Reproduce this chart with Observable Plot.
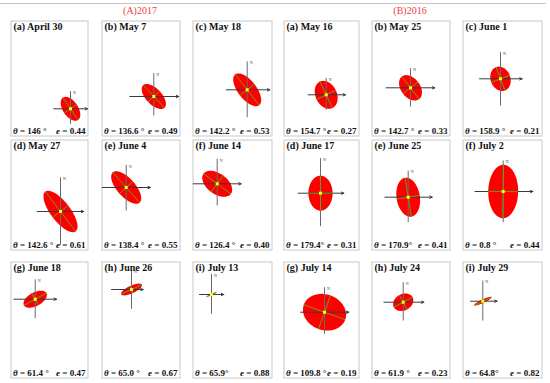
<!DOCTYPE html>
<html><head><meta charset="utf-8">
<script src="https://cdn.jsdelivr.net/npm/d3@7"></script>
<script src="https://cdn.jsdelivr.net/npm/@observablehq/plot@0.6"></script>
<style>
body{margin:0;background:#fff;}
#chart{position:relative;width:550px;height:383px;overflow:hidden;font-family:"Liberation Serif","DejaVu Serif",serif;background:#fff;}
.group{position:absolute;top:6px;font-size:10px;line-height:10px;color:#e8413c;transform:translateX(-50%);white-space:nowrap;}
.rule{position:absolute;left:0;top:3px;width:546px;height:1px;background:#c4c4c4;}
.panel{position:absolute;}
.panel svg{display:block;}
</style></head><body>
<div id="chart"><div class="rule"></div></div>
<script>
// ---- data ----
const groupLabels = ["(A)2017", "(B)2016"];
const panelTitles = [
  "(a) April 30", "(b) May 7", "(c) May 18", "(a) May 16", "(b) May 25", "(c) June 1",
  "(d) May 27", "(e) June 4", "(f) June 14", "(d) June 17", "(e) June 25", "(f) July 2",
  "(g) June 18", "(h) June 26", "(i) July 13", "(g) July 14", "(h) July 24", "(i) July 29"
];
const thetaLabels = [
  "146 °", "136.6 °", "142.2 °", "154.7 °", "142.7 °", "158.9 °",
  "142.6 °", "138.4 °", "126.4 °", "179.4°", "170.9°", "0.8 °",
  "61.4 °", "65.0 °", "65.9°", "109.8 °", "61.9 °", "64.8°"
];
const eLabels = [
  "0.44", "0.49", "0.53", "0.27", "0.33", "0.21",
  "0.61", "0.55", "0.40", "0.31", "0.41", "0.44",
  "0.47", "0.67", "0.88", "0.19", "0.23", "0.82"
];
// ellipse centre (position inside its panel), cross arm lengths, semi-major axis
const centerX = [60, 52.3, 54.7, 42.7, 39, 38,   50, 24.7, 24.7, 37, 36.7, 40.7,   24.7, 30, 19, 41, 31.7, 20.3];
const centerY = [88.3, 76, 69.3, 74.3, 67.3, 58.3,   72, 48, 44.3, 53.7, 57.7, 52,   37.7, 28, 33, 50.7, 40.7, 39.7];
const armLeft  = [16.7, 24, 21, 18, 24.3, 21,   23.3, 24, 24, 22.3, 23.3, 28.3,   21.3, 20, 12, 24, 19.3, 12.3];
const armRight = [17, 25, 22.6, 19.3, 24.3, 21.7,   23.3, 24.3, 24, 23.3, 24, 29.7,   21.3, 11.7, 12.3, 24.3, 20.7, 14.3];
const armUp    = [17.6, 23.3, 28.3, 17, 19.6, 26.7,   34.3, 22.7, 25, 35, 26.7, 31,   19.7, 19, 20.7, 25, 20, 20.7];
const armDown  = [15, 19, 27.4, 15, 18.7, 26.7,   33.3, 23, 21.7, 33, 25, 30.7,   19, 19.3, 19.3, 21.7, 18.3, 19.3];
const semiMajor = [13.5, 15.5, 19.5, 14.6, 14.2, 12.5,   25, 20.2, 17, 17.5, 19.7, 26.7,   12.8, 11.4, 5.5, 22, 10.6, 9.6];

// ---- layout ----
const colLeft = [10, 101, 192, 283, 371, 462];
const colWidth = [78, 79, 80, 76, 79, 80];
const rowTop = [20, 139, 261];
const rowHeight = [116, 111, 117];
const groupCenter = [140, 410];

const chart = document.getElementById("chart");
groupLabels.forEach((g, i) => {
  const d = document.createElement("div");
  d.className = "group"; d.textContent = g; d.style.left = groupCenter[i] + "px";
  chart.appendChild(d);
});

const serif = "'Liberation Serif','DejaVu Serif',serif";

function panel(i) {
  const r = Math.floor(i / 6), c = i % 6;
  const w = colWidth[c], h = rowHeight[r];
  const th = parseFloat(thetaLabels[i]) * Math.PI / 180;
  const e = parseFloat(eLabels[i]);
  const a = semiMajor[i], b = a * (1 - e);
  const cx = centerX[i], cy = centerY[i];
  const M = [Math.sin(th), -Math.cos(th)];
  const m = [Math.cos(th), Math.sin(th)];
  const ell = d3.range(90).map(k => {
    const t = k / 90 * 2 * Math.PI;
    const u = a * Math.cos(t), v = b * Math.sin(t);
    return {x: cx + u * M[0] + v * m[0], y: cy + u * M[1] + v * m[1]};
  });
  const axesG = [
    {x1: cx - a * M[0], y1: cy - a * M[1], x2: cx + a * M[0], y2: cy + a * M[1]},
    {x1: cx - b * m[0], y1: cy - b * m[1], x2: cx + b * m[0], y2: cy + b * m[1]}
  ];
  const hLine = [{x1: cx - armLeft[i], y1: cy, x2: cx + armRight[i], y2: cy}];
  const vLine = [{x1: cx, y1: cy + armDown[i], x2: cx, y2: cy - armUp[i]}];
  const svg = Plot.plot({
    width: w, height: h, margin: 0,
    x: {domain: [0, w], range: [0, w], axis: null},
    y: {domain: [0, h], range: [0, h], axis: null},
    style: {background: "white", fontFamily: serif, overflow: "visible"},
    marks: [
      Plot.frame({stroke: "#c8c8c8", strokeWidth: 1, inset: 0.5}),
      Plot.line(ell, {x: "x", y: "y", fill: "#ff0000", stroke: "none", curve: "linear-closed"}),
      Plot.link(vLine, {x1: "x1", y1: "y1", x2: "x2", y2: "y2", stroke: "#6a6a6a", strokeWidth: 1}),
      Plot.arrow(hLine, {x1: "x1", y1: "y1", x2: "x2", y2: "y2", stroke: "#3a3a3a", strokeWidth: 1, headLength: 4, headAngle: 50}),
      Plot.link(axesG, {x1: "x1", y1: "y1", x2: "x2", y2: "y2", stroke: "#6e9a2c", strokeWidth: 1}),
      Plot.dot([{x: cx, y: cy}], {x: "x", y: "y", r: 1.7, symbol: "square", fill: "#ffff00", stroke: "none"}),
      Plot.text([{x: cx + 2.5, y: cy - armUp[i] + 1.5}], {x: "x", y: "y", text: () => "N", fontSize: 4, fill: "#444", textAnchor: "start"}),
      Plot.text([panelTitles[i]], {text: d => d, frameAnchor: "top-left", textAnchor: "start", lineAnchor: "top", dx: 3, dy: 2.5, fontSize: 10, fontWeight: "bold", fill: "#111"}),
      Plot.text(["θ = " + thetaLabels[i]], {text: d => d, frameAnchor: "bottom-left", textAnchor: "start", lineAnchor: "bottom", dx: 2.5, dy: -3, fontSize: 9, fontWeight: "bold", fill: "#111"}),
      Plot.text(["e = " + eLabels[i]], {text: d => d, frameAnchor: "bottom-right", textAnchor: "end", lineAnchor: "bottom", dx: -3, dy: -3, fontSize: 9, fontWeight: "bold", fill: "#111"})
    ]
  });
  d3.select(svg).selectAll("text").each(function() {
    const s = this.textContent;
    if (s.startsWith("θ") || s.startsWith("e =")) {
      const sel = d3.select(this);
      sel.text(null);
      sel.append("tspan").attr("font-style", "italic").text(s[0]);
      sel.append("tspan").text(s.slice(1));
    }
  });
  const div = document.createElement("div");
  div.className = "panel";
  div.style.left = colLeft[c] + "px";
  div.style.top = rowTop[r] + "px";
  div.appendChild(svg);
  chart.appendChild(div);
}
for (let i = 0; i < 18; i++) panel(i);
</script>
</body></html>
